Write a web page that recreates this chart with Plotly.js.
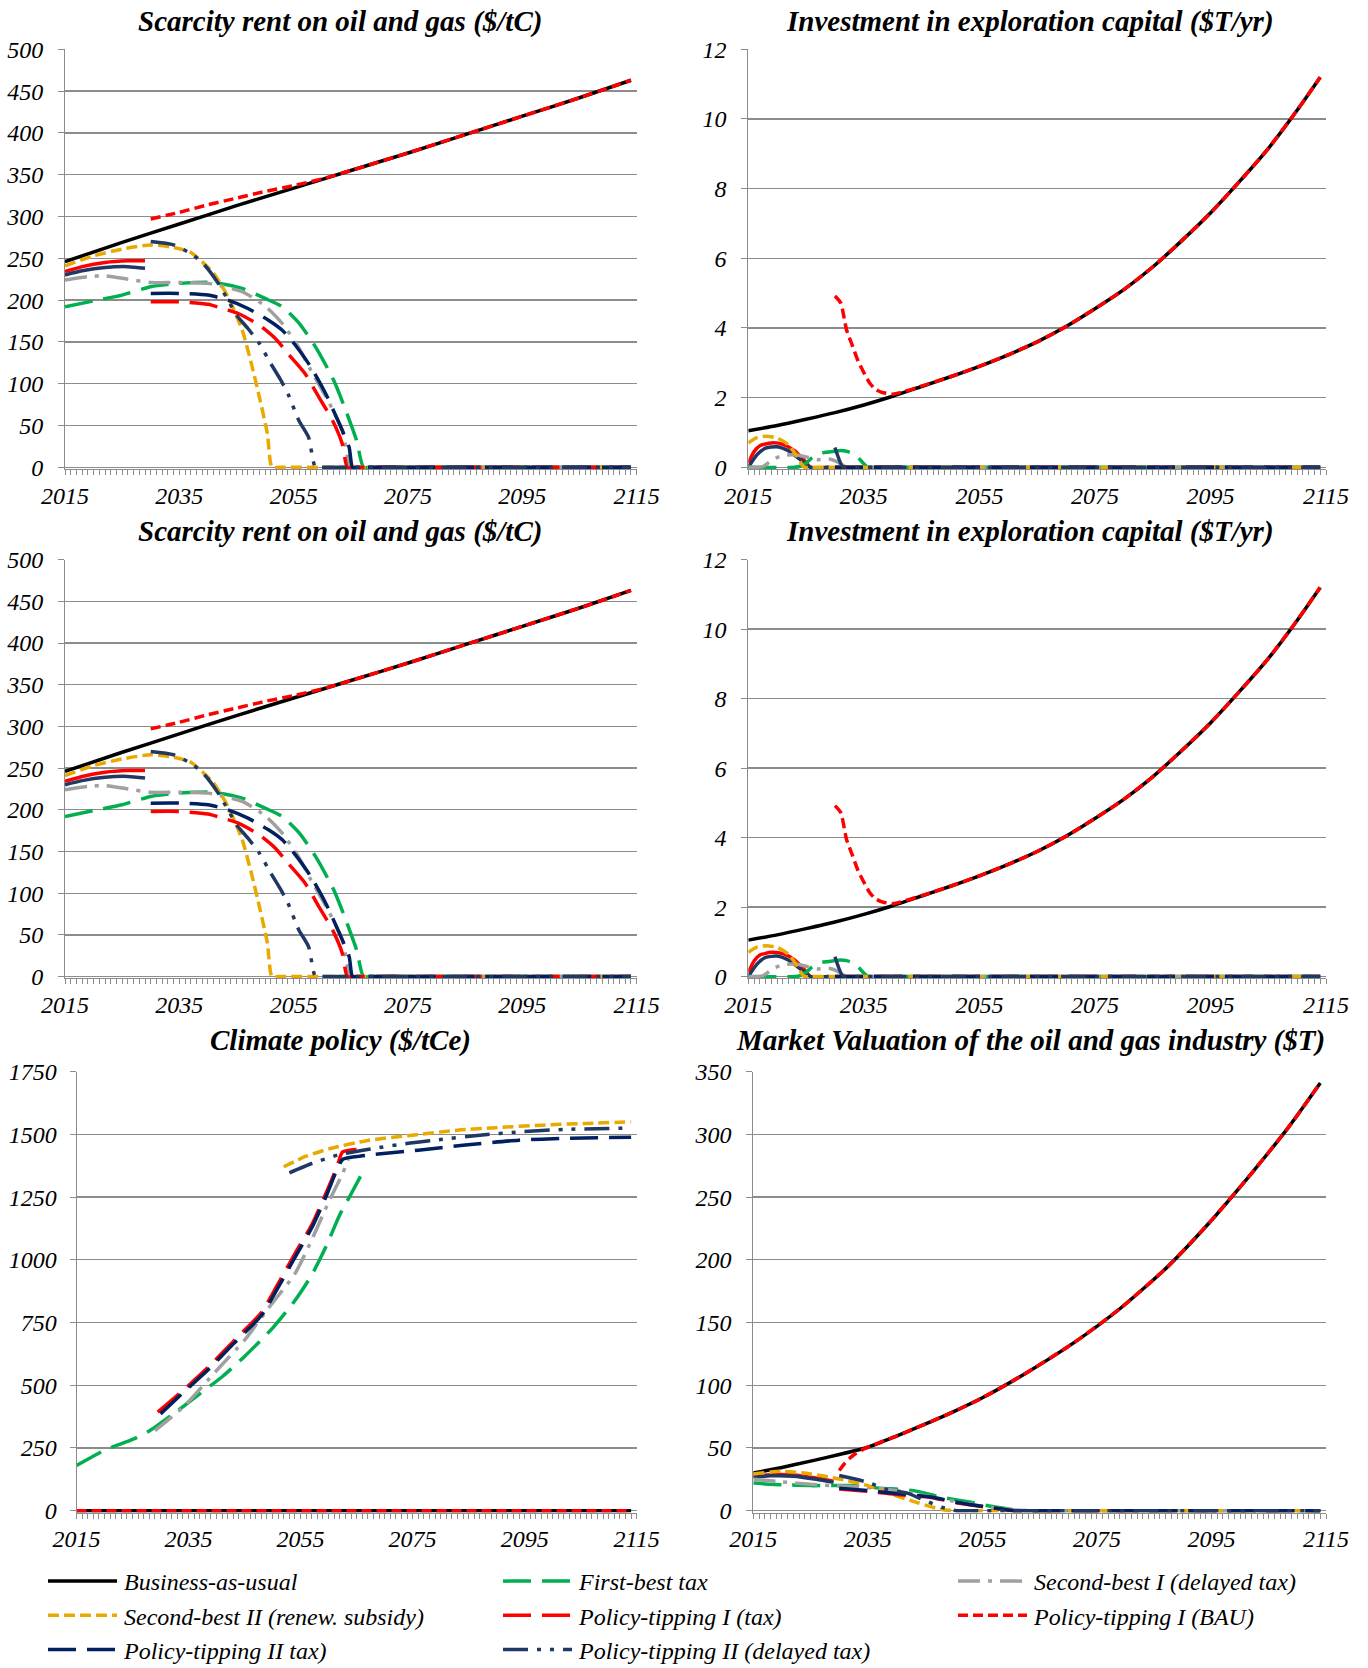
<!DOCTYPE html>
<html>
<head>
<meta charset="utf-8">
<script src="https://cdn.plot.ly/plotly-3.0.1.min.js"></script>
<style>
html,body{margin:0;padding:0;background:#ffffff;}
#chart{width:1368px;height:1668px;}
</style>
</head>
<body>
<div id="chart"></div>
<script>
// ---------------- DATA ----------------
// Panel: Scarcity rent on oil and gas ($/tC)
const rent_bau_yr = [2015,2025,2035,2045,2055,2065,2075,2085,2095,2105,2114];
const rent_bau    = [246,269,291,313,334,355,376,398,420,442,463];
const rent_pt1pre_yr = [2015,2018,2022,2026,2029];
const rent_pt1pre    = [234,240,245,247,247];
const rent_pt2pre_yr = [2015,2018,2022,2026,2029];
const rent_pt2pre    = [230,235,239,240,238];
const rent_fb_yr = [2015,2020,2025,2030,2035,2041,2046,2050,2053,2056,2059,2062,2064,2066,2067.2,2068.5,2114];
const rent_fb    = [192,199,206,216,220,221,214,202,192,172,142,104,70,32,0,0,0];
const rent_sb1_yr = [2015,2019,2022,2026,2030,2035,2040,2046,2050,2053,2056,2058,2061,2063.5,2065,2066.5,2114];
const rent_sb1    = [224,228,229,225,221,221,220,210,193,172,142,116,80,44,0,0,0];
const rent_sb2_yr = [2015,2020,2025,2030,2034,2037,2041,2043.5,2046,2047.6,2049,2050.4,2051.2,2052.5,2114];
const rent_sb2    = [241,253,261,266,263,257,232,204,164,124,84,40,0,0,0];
const rent_pt1_yr = [2030,2035,2040,2042.6,2045.3,2049,2051.8,2054,2057,2059.4,2061.8,2063.5,2064.4,2065.7,2114];
const rent_pt1    = [198,198,195,190,184,170,154,136,112,84,56,28,0,0,0];
const rent_pt1b_yr = [2030,2035,2040,2045,2050,2055,2060,2065,2075,2085,2095,2105,2114];
const rent_pt1b    = [297,305,314,322,330,337,345,355,376,398,420,442,463];
const rent_pt2_yr = [2030,2035,2040,2043.5,2047,2050.6,2053,2055.3,2058,2060.6,2063,2064.7,2065.3,2066.6,2114];
const rent_pt2    = [208,208,206,200,190,176,164,146,120,88,52,24,0,0,0];
const rent_pt2d_yr = [2030,2034,2037.4,2039.4,2041.8,2043.5,2045,2047,2049,2051,2052.6,2054,2055.9,2057.6,2058.8,2060,2114];
const rent_pt2d    = [270,266,254,242,220,200,182,166,148,124,106,88,56,36,0,0,0];

// Panel: Investment in exploration capital ($T/yr)
const inv_bau_yr = [2015,2020,2025,2030,2035,2040,2045,2050,2055,2060,2065,2070,2075,2080,2085,2090,2095,2100,2105,2110,2114];
const inv_bau    = [1.05,1.2,1.38,1.57,1.79,2.04,2.32,2.6,2.9,3.23,3.6,4.04,4.55,5.1,5.75,6.5,7.3,8.2,9.15,10.25,11.2];
const inv_pt1pre_yr = [2015,2016,2017,2019,2021,2023,2024.5,2025.8,2029];
const inv_pt1pre    = [0.12,0.45,0.62,0.7,0.66,0.48,0.24,0,0];
const inv_pt2pre_yr = [2015,2016.5,2018,2020,2022,2024,2025.8,2029];
const inv_pt2pre    = [0,0.36,0.55,0.59,0.47,0.22,0,0];
const inv_fb_yr = [2015,2023,2024,2025,2026,2027,2028,2030,2031,2032,2033,2034,2035,2035.7,2037,2114];
const inv_fb    = [0,0,0.03,0.12,0.27,0.38,0.42,0.46,0.48,0.46,0.4,0.28,0.1,0,0,0];
const inv_sb1_yr = [2015,2017.5,2019.4,2021,2023,2025,2027,2029,2030.5,2032,2033,2114];
const inv_sb1    = [0,0.02,0.24,0.34,0.36,0.3,0.22,0.24,0.15,0,0,0];
const inv_sb2_yr = [2015,2016.5,2018,2020,2022,2023,2024,2024.7,2026,2114];
const inv_sb2    = [0.7,0.85,0.89,0.84,0.64,0.42,0.15,0,0,0];
const inv_pt1_yr = [2030,2114];
const inv_pt1    = [0,0];
const inv_pt1b_yr = [2030,2031,2032,2033,2034,2035,2036,2037,2038,2040,2045,2050,2055,2060,2065,2070,2075,2080,2085,2090,2095,2100,2105,2110,2114];
const inv_pt1b    = [4.92,4.72,3.95,3.5,3.05,2.72,2.42,2.24,2.16,2.1,2.33,2.6,2.9,3.23,3.6,4.04,4.55,5.1,5.75,6.5,7.3,8.2,9.15,10.25,11.2];
const inv_pt2_yr = [2030,2114];
const inv_pt2    = [0,0];
const inv_pt2d_yr = [2030,2031.4,2032.5,2114];
const inv_pt2d    = [0.57,0,0,0];

// Panel: Climate policy ($/tCe)
const pol_bau_yr = [2015,2114];
const pol_bau    = [0,0];
const pol_fb_yr = [2015,2020,2025,2028,2032,2036,2041,2045,2050,2054,2057,2059.5,2062,2064,2066];
const pol_fb    = [180,241,284,318,381,449,534,615,728,838,940,1051,1180,1262,1345];
const pol_sb1_yr = [2029,2034,2040,2045,2049,2054,2057,2060,2062.5,2063.5];
const pol_sb1    = [319,412,559,680,800,945,1080,1230,1344,1400];
const pol_sb2_yr = [2052,2056,2060,2067,2075,2083,2090,2098,2106,2114];
const pol_sb2    = [1371,1413,1442,1476,1497,1517,1527,1537,1544,1550];
const pol_pt1_yr = [2029.5,2034,2038.5,2043,2048,2051,2054,2057,2059.5,2061.5,2062.5,2065];
const pol_pt1    = [393,479,572,675,790,905,1025,1140,1264,1371,1430,1440];
const pol_pt1b_yr = [2015,2114];
const pol_pt1b    = [0,0];
const pol_pt2_yr = [2030,2034,2038.5,2043,2048,2051,2054,2057,2059.5,2061.5,2062.5,2065,2068,2076,2084,2094,2102,2114];
const pol_pt2    = [386,470,562,665,778,890,1010,1128,1250,1360,1400,1412,1420,1437,1457,1477,1484,1489];
const pol_pt2d_yr = [2053,2057,2062,2068,2074,2079,2087,2094,2102,2114];
const pol_pt2d    = [1347,1384,1420,1444,1464,1477,1497,1510,1520,1525];

// Panel: Market valuation of the oil and gas industry ($T)
const val_bau_yr = [2015,2020,2025,2030,2035,2040,2045,2050,2055,2062,2071,2079,2087,2094.5,2102,2108.5,2114];
const val_bau    = [30,34.5,39.5,44.8,50.6,59.5,69,79,90,108,134,161,193,229,269,306,341];
const val_pt1pre_yr = [2015,2018,2022,2026,2029];
const val_pt1pre    = [27.5,28.7,28.5,26,23.5];
const val_pt2pre_yr = [2015,2018,2022,2026,2029];
const val_pt2pre    = [26.8,27.8,27.5,25,22.6];
const val_fb_yr = [2015,2020,2025,2033,2037,2043,2048,2053,2057.5,2061,2063,2064.5,2114];
const val_fb    = [22,20.7,20,20,18,16,10.6,6.7,2.7,0.5,0,0,0];
const val_sb1_yr = [2015,2020,2025,2029,2035,2040,2045,2050,2055,2060,2063,2064.5,2114];
const val_sb1    = [25,23,21,20,18.5,16,12,7.5,3.5,0.8,0,0,0];
const val_sb2_yr = [2015,2020,2025,2030,2035,2039,2043.5,2047.5,2050,2051.5,2114];
const val_sb2    = [29.3,31.4,29.3,25.3,20,13.3,6.7,1.3,0,0,0];
const val_pt1_yr = [2030,2035,2040.5,2046,2051,2056,2060.5,2062,2114];
const val_pt1    = [17.3,15.4,12.8,10.6,5.9,2.7,0,0,0];
const val_pt1b_yr = [2030,2031,2032,2033,2034,2035,2040,2045,2050,2055,2062,2071,2079,2087,2094.5,2102,2108.5,2114];
const val_pt1b    = [32,38,42.5,46,48.5,50.6,59.5,69,79,90,108,134,161,193,229,269,306,341];
const val_pt2_yr = [2030,2035,2040.5,2046,2051,2056,2060.5,2062,2114];
const val_pt2    = [18,16,13.5,11,6.3,2.8,0,0,0];
const val_pt2d_yr = [2030,2035,2038,2042,2045,2048,2050.5,2052,2114];
const val_pt2d    = [28,22.6,17.3,13.8,8,2.7,0,0,0];

// Titles and axis ticks
const titles = [
  'Scarcity rent on oil and gas ($/tC)',
  'Investment in exploration capital ($T/yr)',
  'Scarcity rent on oil and gas ($/tC)',
  'Investment in exploration capital ($T/yr)',
  'Climate policy ($/tCe)',
  'Market Valuation of the oil and gas industry ($T)'
];
const xTickVals = [2015,2035,2055,2075,2095,2115];
const xTickText = ['2015','2035','2055','2075','2095','2115'];

// ---------------- STYLES ----------------
const W = 1368, H = 1668;
const FONT = '"Liberation Serif", "Times New Roman", Times, serif';
const GRID = '#8c8c8c';

const STY = {
  bau:    {name:'Business-as-usual',              color:'#000000', dash:'solid'},
  pt1pre: {name:'',                               color:'#FF0000', dash:'solid'},
  pt2pre: {name:'',                               color:'#1F3864', dash:'solid'},
  fb:     {name:'First-best tax',                 color:'#00B050', dash:'28px,11px'},
  sb1:    {name:'Second-best I (delayed tax)',    color:'#A0A0A0', dash:'22px,8px,4px,8px'},
  sb2:    {name:'Second-best II (renew. subsidy)',color:'#E8A900', dash:'11px,5px'},
  pt1:    {name:'Policy-tipping I (tax)',         color:'#FF0000', dash:'28px,11px'},
  pt1b:   {name:'Policy-tipping I (BAU)',         color:'#FF0000', dash:'10px,5px'},
  pt2:    {name:'Policy-tipping II tax)',         color:'#002060', dash:'28px,11px'},
  pt2d:   {name:'Policy-tipping II (delayed tax)',color:'#1F3864', dash:'25px,9px,4px,9px,4px,9px'}
};
const ORDER = ['bau','pt1pre','pt2pre','fb','sb1','sb2','pt1','pt1b','pt2','pt2d'];
const LEGEND_KEYS = ['bau','fb','sb1','sb2','pt1','pt1b','pt2','pt2d'];

const DATA = {
  rent: {bau:[rent_bau_yr,rent_bau], pt1pre:[rent_pt1pre_yr,rent_pt1pre], pt2pre:[rent_pt2pre_yr,rent_pt2pre],
         fb:[rent_fb_yr,rent_fb], sb1:[rent_sb1_yr,rent_sb1], sb2:[rent_sb2_yr,rent_sb2],
         pt1:[rent_pt1_yr,rent_pt1], pt1b:[rent_pt1b_yr,rent_pt1b], pt2:[rent_pt2_yr,rent_pt2], pt2d:[rent_pt2d_yr,rent_pt2d]},
  inv:  {bau:[inv_bau_yr,inv_bau], pt1pre:[inv_pt1pre_yr,inv_pt1pre], pt2pre:[inv_pt2pre_yr,inv_pt2pre],
         fb:[inv_fb_yr,inv_fb], sb1:[inv_sb1_yr,inv_sb1], sb2:[inv_sb2_yr,inv_sb2],
         pt1:[inv_pt1_yr,inv_pt1], pt1b:[inv_pt1b_yr,inv_pt1b], pt2:[inv_pt2_yr,inv_pt2], pt2d:[inv_pt2d_yr,inv_pt2d]},
  pol:  {bau:[pol_bau_yr,pol_bau], fb:[pol_fb_yr,pol_fb], sb1:[pol_sb1_yr,pol_sb1], sb2:[pol_sb2_yr,pol_sb2],
         pt1:[pol_pt1_yr,pol_pt1], pt1b:[pol_pt1b_yr,pol_pt1b], pt2:[pol_pt2_yr,pol_pt2], pt2d:[pol_pt2d_yr,pol_pt2d]},
  val:  {bau:[val_bau_yr,val_bau], pt1pre:[val_pt1pre_yr,val_pt1pre], pt2pre:[val_pt2pre_yr,val_pt2pre],
         fb:[val_fb_yr,val_fb], sb1:[val_sb1_yr,val_sb1], sb2:[val_sb2_yr,val_sb2],
         pt1:[val_pt1_yr,val_pt1], pt1b:[val_pt1b_yr,val_pt1b], pt2:[val_pt2_yr,val_pt2], pt2d:[val_pt2d_yr,val_pt2d]}
};

// panel geometry in pixels: left, right, top (ymax), zero line
const PANELS = [
  {key:'rent', l:65,    r:636.7, t:49.3,   z:467.3,  ymax:500,  dtick:50,  tx:340,  so:10},
  {key:'inv',  l:748.3, r:1326,  t:49.3,   z:467.3,  ymax:12,   dtick:2,   tx:1030, so:10},
  {key:'rent', l:65,    r:636.7, t:559.6,  z:976.6,  ymax:500,  dtick:50,  tx:340,  so:10},
  {key:'inv',  l:748.3, r:1326,  t:559.6,  z:976.6,  ymax:12,   dtick:2,   tx:1030, so:10},
  {key:'pol',  l:76.5,  r:636.7, t:1071.7, z:1510.7, ymax:1750, dtick:250, tx:340,  so:8},
  {key:'val',  l:753.3, r:1326,  t:1071.7, z:1510.7, ymax:350,  dtick:50,  tx:1030, so:10}
];
const TITLE_Y = [21, 21, 531, 531, 1040, 1040];
const PAD = 1.8; // px below zero so lines on 0 are not clipped

const traces = [];
const layout = {
  width: W, height: H,
  margin: {l:0, r:0, t:0, b:0, autoexpand:false},
  paper_bgcolor: '#ffffff', plot_bgcolor: '#ffffff',
  font: {family: FONT, color:'#000000', size:24},
  showlegend: true,
  legend: {
    orientation:'h', x: 43/W, xanchor:'left', y: 1 - 1559/H, yanchor:'top',
    font:{family:FONT, size:24, style:'italic', color:'#000000'},
    entrywidth: 369, entrywidthmode:'pixels', itemwidth: 71,
    bgcolor:'rgba(0,0,0,0)', traceorder:'normal'
  },
  annotations: []
};

PANELS.forEach((p, i) => {
  const n = i + 1;
  const xa = n === 1 ? 'x' : 'x' + n;
  const ya = n === 1 ? 'y' : 'y' + n;
  const upp = p.ymax / (p.z - p.t);
  const ymin = -PAD * upp;
  const bottomPx = p.z + PAD;
  layout['xaxis' + (n === 1 ? '' : n)] = {
    domain: [p.l / W, p.r / W], anchor: ya, range: [2015, 2115],
    tickmode: 'array', tickvals: xTickVals, ticktext: xTickText,
    ticks: 'outside', ticklen: 5, tickwidth: 1, tickcolor: GRID,
    showline: true, linecolor: GRID, linewidth: 1,
    showgrid: false, zeroline: false,
    minor: {tick0: 2015, dtick: 1, ticks: 'outside', ticklen: 5, tickwidth: 1, tickcolor: GRID, showgrid: false},
    tickfont: {family: FONT, size: 24, style: 'italic', color: '#000'},
    ticklabelstandoff: 0, fixedrange: true
  };
  layout['yaxis' + (n === 1 ? '' : n)] = {
    domain: [1 - bottomPx / H, 1 - p.t / H], anchor: xa, range: [ymin, p.ymax],
    tick0: 0, dtick: p.dtick,
    ticks: 'outside', ticklen: 6, tickwidth: 1, tickcolor: GRID,
    showline: true, linecolor: GRID, linewidth: 1,
    showgrid: true, gridcolor: GRID, gridwidth: 1.3, zeroline: false,
    tickfont: {family: FONT, size: 24, style: 'italic', color: '#000'},
    ticklabelstandoff: p.so, fixedrange: true
  };
  layout.annotations.push({
    text: titles[i], xref: 'paper', yref: 'paper', x: p.tx / W, y: 1 - TITLE_Y[i] / H,
    xanchor: 'center', yanchor: 'middle', showarrow: false,
    font: {family: FONT, size: 29, style: 'italic', weight: 'bold', color: '#000'}
  });
  const d = DATA[p.key];
  ORDER.forEach(k => {
    if (!d[k]) return;
    const s = STY[k];
    const inLegend = (i === 0) && LEGEND_KEYS.includes(k);
    traces.push({
      type: 'scatter', mode: 'lines', x: d[k][0], y: d[k][1],
      xaxis: xa, yaxis: ya, name: s.name || k,
      legendgroup: k, showlegend: inLegend,
      line: {color: s.color, width: 3.5, dash: s.dash, shape: 'spline', smoothing: 0.6},
      hoverinfo: 'skip'
    });
  });
});

Plotly.newPlot('chart', traces, layout, {displayModeBar:false, staticPlot:true}).then(gd => {
  gd.querySelectorAll('.legend path.js-line').forEach(pth => pth.setAttribute('d', 'M5,0h69'));
});
</script>
</body>
</html>
